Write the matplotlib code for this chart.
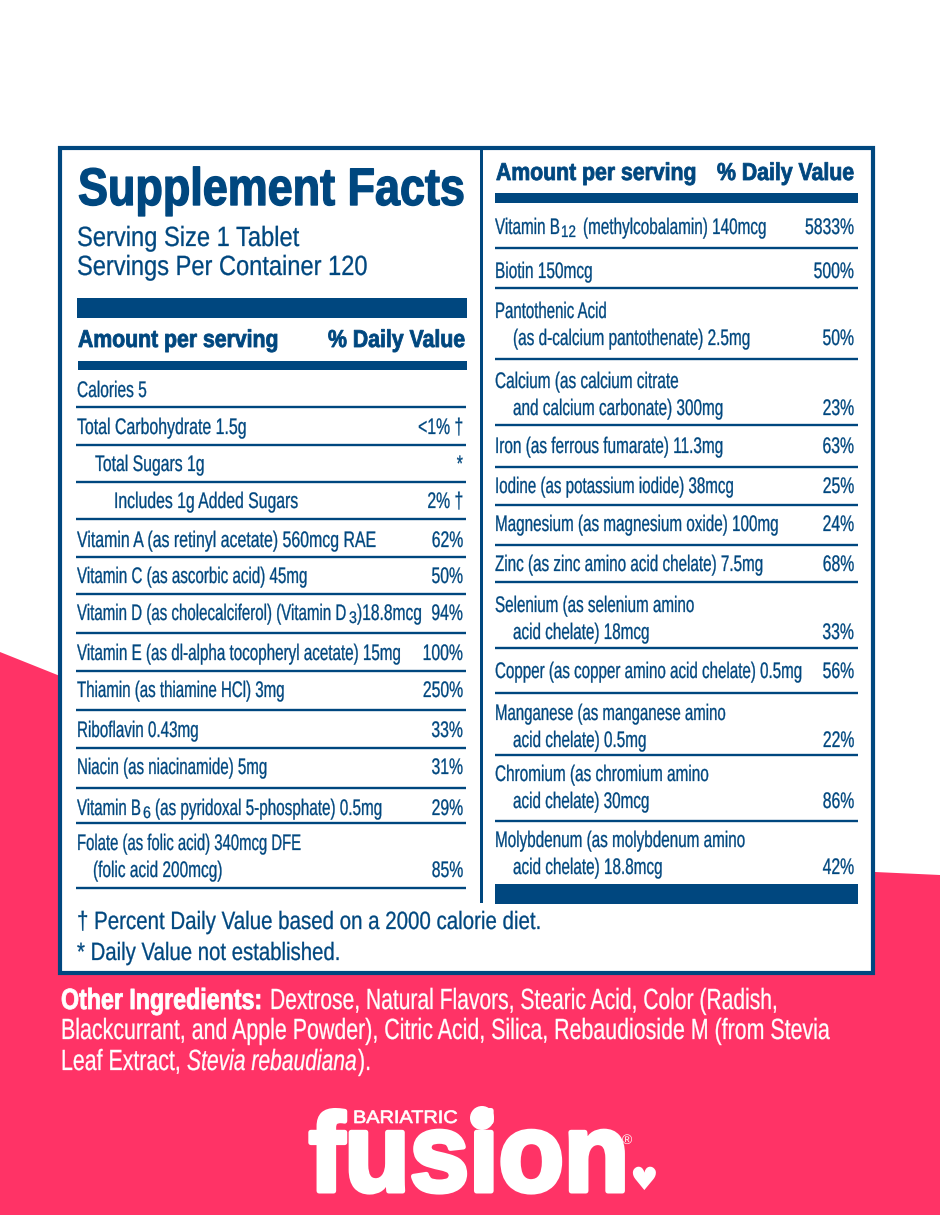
import matplotlib
matplotlib.use("Agg")
import matplotlib.pyplot as plt
from matplotlib.patches import Polygon, Rectangle, Ellipse
from matplotlib.patheffects import AbstractPathEffect
from matplotlib.transforms import Affine2D

NAVY = "#00477f"
PINK = "#ff3366"
FONT = "Liberation Sans"
ROW_SIZE = 16.2
ROW_SX = 0.70
ROW_STROKE = 0.2

# left column
left_labels = ["Calories 5", "Total Carbohydrate 1.5g", "Total Sugars 1g", "Includes 1g Added Sugars",
               "Vitamin A (as retinyl acetate) 560mcg RAE", "Vitamin C (as ascorbic acid) 45mg",
               "Vitamin D (as cholecalciferol) (Vitamin D", "Vitamin E (as dl-alpha tocopheryl acetate) 15mg",
               "Thiamin (as thiamine HCl) 3mg", "Riboflavin 0.43mg", "Niacin (as niacinamide) 5mg",
               "Vitamin B", "Folate (as folic acid) 340mcg DFE"]
left_second = {12: "(folic acid 200mcg)"}
left_second_ends = {12: 223}
left_values = ["", "<1% †", "*", "2% †", "62%", "50%", "94%", "100%", "250%", "33%", "31%", "29%", "85%"]
left_indent = [0, 0, 18, 37, 0, 0, 0, 0, 0, 0, 0, 0, 0]
left_ends = [147, 247, 205, 299, 377, 308, 347, 402, 285, 199, 268, 141, 302]
left_y = [397, 434, 471, 508, 547, 583, 620, 660, 697, 737, 774, 815, 850]
left_rules = [407, 445, 482, 519, 557, 594, 633, 671, 710, 748, 788, 823, 888]

# right column
right_labels = ["Vitamin B", "Biotin 150mcg", "Pantothenic Acid", "Calcium (as calcium citrate",
                "Iron (as ferrous fumarate) 11.3mg", "Iodine (as potassium iodide) 38mcg",
                "Magnesium (as magnesium oxide) 100mg", "Zinc (as zinc amino acid chelate) 7.5mg",
                "Selenium (as selenium amino", "Copper (as copper amino acid chelate) 0.5mg",
                "Manganese (as manganese amino", "Chromium (as chromium amino", "Molybdenum (as molybdenum amino"]
right_second = {2: "(as d-calcium pantothenate) 2.5mg", 3: "and calcium carbonate) 300mg",
                8: "acid chelate) 18mcg", 10: "acid chelate) 0.5mg", 11: "acid chelate) 30mcg",
                12: "acid chelate) 18.8mcg"}
right_second_ends = {2: 751, 3: 724, 8: 650, 10: 647, 11: 650, 12: 663}
right_values = ["5833%", "500%", "50%", "23%", "63%", "25%", "24%", "68%", "33%", "56%", "22%", "86%", "42%"]
right_ends = [560, 593, 607, 679, 724, 735, 780, 764, 695, 803, 727, 709, 746]
right_y = [234, 278, 318, 388, 453, 493, 531, 571, 612, 678, 720, 781, 847]
right_rules = [248, 288, 359, 425, 467, 505, 545, 582, 648, 693, 755, 821]

# pink background outline
bg_x = [0, 60, 875, 940, 940, 0]
bg_y = [652, 676, 872, 875, 1215, 1215]

fig = plt.figure(figsize=(9.4, 12.15), dpi=100)
ax = fig.add_axes([0, 0, 1, 1])
ax.set_xlim(0, 940)
ax.set_ylim(1215, 0)
ax.axis("off")
rend = fig.canvas.get_renderer()


class Tall(AbstractPathEffect):
    """ Stretch glyphs upward, which gives a condensed look as no narrow font is installed """

    def __init__(self, sy, stroke=0):
        super().__init__()
        self.sy = sy
        self.stroke = stroke

    def draw_path(self, renderer, gc, tpath, affine, rgbFace=None):
        gc0 = renderer.new_gc()
        gc0.copy_properties(gc)
        if self.stroke:
            gc0.set_linewidth(self.stroke)
            gc0.set_foreground(rgbFace, isRGBA=True)
            gc0.set_joinstyle("round")
        renderer.draw_path(gc0, tpath, Affine2D().scale(1, self.sy) + affine, rgbFace)
        gc0.restore()


def txt(x, y, s, size=ROW_SIZE, weight="normal", color=NAVY, ha="left", style="normal",
        sx=ROW_SX, end=None, stroke=ROW_STROKE):
    """ Place one text on its baseline, end (pixels) overrides sx """
    t = ax.text(x, y, s, fontsize=size, fontweight=weight, color=color, ha=ha, va="baseline",
                fontstyle=style, family=FONT, zorder=3)
    if end is not None:
        sx = (end - x) / t.get_window_extent(rend).width
    t.set_fontsize(size * sx)
    t.set_path_effects([Tall(1 / sx, stroke)])
    return t


def rect(x0, y0, x1, y1, color=NAVY):
    ax.add_patch(Rectangle((x0, y0), x1 - x0, y1 - y0, fc=color, ec="none", zorder=2))


ax.add_patch(Polygon(list(zip(bg_x, bg_y)), fc=PINK, ec="none", zorder=0))
ax.add_patch(Rectangle((60, 148), 813, 825, fc="white", ec=NAVY, lw=3, zorder=1))
rect(480, 148, 483, 903)

# left panel heading
txt(78, 205, "Supplement Facts", size=38, weight="bold", end=464, stroke=1.0)
txt(77, 246, "Serving Size 1 Tablet", size=20, end=299)
txt(77, 275, "Servings Per Container 120", size=20, end=367)
rect(77, 298, 467, 318)
txt(78, 347, "Amount per serving", size=17.6, weight="bold", end=278, stroke=0.6)
txt(328, 347, "% Daily Value", size=17.6, weight="bold", end=465, stroke=0.6)
rect(78, 361, 467, 370)

for i, label in enumerate(left_labels):
    y = left_y[i]
    x = 77 + left_indent[i]
    txt(x, y, label, end=left_ends[i])
    if label.endswith("Vitamin D"):
        txt(349, y + 3, "3", size=12, sx=0.85)
        txt(357, y, ")18.8mcg", end=422)
    elif label == "Vitamin B":
        txt(143, y + 3, "6", size=12, sx=0.85)
        txt(155, y, "(as pyridoxal 5-phosphate) 0.5mg", end=383)
    if i in left_second:
        txt(93, y + 27, left_second[i], end=left_second_ends[i])
    vy = y + 27 if i in left_second else y
    if left_values[i]:
        txt(463, vy, left_values[i], ha="right")
for y in left_rules:
    ax.plot([76, 466], [y, y], color=NAVY, lw=1.7, solid_capstyle="butt", zorder=2)

# right panel heading
txt(496, 180, "Amount per serving", size=17.6, weight="bold", end=696, stroke=0.6)
txt(717, 180, "% Daily Value", size=17.6, weight="bold", end=854, stroke=0.6)
rect(495, 193, 858, 203)

for i, label in enumerate(right_labels):
    y = right_y[i]
    txt(495, y, label, end=right_ends[i])
    if i == 0:
        txt(561, y + 3, "12", size=12, end=576)
        txt(583, y, "(methylcobalamin) 140mcg", end=767)
    if i in right_second:
        txt(513, y + 27, right_second[i], end=right_second_ends[i])
    vy = y + 27 if i in right_second else y
    txt(854, vy, right_values[i], ha="right")
for y in right_rules:
    ax.plot([495, 858], [y, y], color=NAVY, lw=1.7, solid_capstyle="butt", zorder=2)
rect(495, 884, 858, 904)

# footnotes
txt(77, 929, "† Percent Daily Value based on a 2000 calorie diet.", size=18, end=541)
txt(77, 960, "* Daily Value not established.", size=18, end=340)

# other ingredients
txt(61, 1009, "Other Ingredients:", size=21, weight="bold", color="white", end=262, stroke=0.6)
txt(270, 1009, "Dextrose, Natural Flavors, Stearic Acid, Color (Radish,", size=21, color="white", end=778)
txt(61, 1039, "Blackcurrant, and Apple Powder), Citric Acid, Silica, Rebaudioside M (from Stevia",
    size=21, color="white", end=830)
txt(61, 1070, "Leaf Extract,", size=21, color="white", end=181)
txt(187, 1070, "Stevia rebaudiana", size=21, color="white", style="italic", end=357)
txt(358, 1070, ").", size=21, color="white", end=371)

# logo
txt(353, 1123, "BARIATRIC", size=13, color="white", end=457, stroke=0.5)
txt(309, 1191, "fusion", size=80, weight="bold", color="white", end=629, stroke=3.6)
ax.add_patch(Ellipse((482, 1118), 24, 24, fc="white", ec="none", zorder=3))
txt(622, 1144, "®", size=10, color="white", sx=1, stroke=0)
ax.text(644, 1181, "♥", fontsize=23, color="white", ha="center", va="center", family="DejaVu Sans", zorder=3)

fig.savefig("out.png", dpi=100)
